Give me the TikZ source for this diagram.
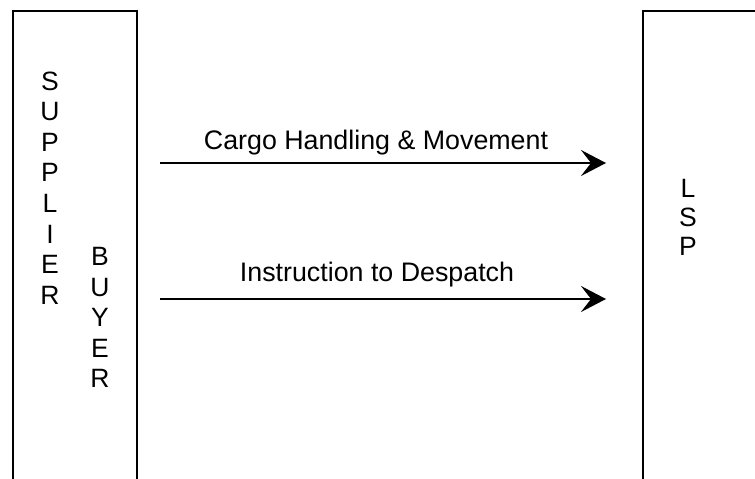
\documentclass[tikz,border=0pt]{standalone}
\usepackage{fontspec}
\setmainfont{Liberation Sans}
\usetikzlibrary{arrows.meta}
\begin{document}
\begin{tikzpicture}[x=1pt,y=-1pt,
  lane/.style={draw=black, line width=2pt, rectangle, inner sep=0pt, anchor=north west},
  vtext/.style={align=center, font=\fontsize{26.5}{30.6}\selectfont, inner sep=0pt},
  ltext/.style={font=\fontsize{26.8}{30}\selectfont, inner sep=0pt, anchor=base},
  flow/.style={line width=2.2pt, -{Stealth[length=25pt,width=26pt,inset=10pt]}}]
\useasboundingbox (0,0) rectangle (755,479);
\clip (0,0) rectangle (755,479);
\node[lane, minimum width=124pt, minimum height=520pt] (sup) at (12,10) {};
\node[lane, minimum width=200pt, minimum height=520pt] (lsp) at (642,10) {};
\node[vtext] (suptext) at (50,188) {S\\U\\P\\P\\L\\I\\E\\R};
\node[vtext] (buytext) at (100,317.5) {B\\U\\Y\\E\\R};
\node[vtext, font=\fontsize{26.5}{29}\selectfont] (lsptext) at (688,217) {L\\S\\P};
\coordinate (c1s) at (160,163);
\coordinate (c1e) at (606,163);
\coordinate (c2s) at (160,299);
\coordinate (c2e) at (606,299);
\draw[flow] (c1s) -- (c1e);
\draw[flow] (c2s) -- (c2e);
\node[ltext] (l1) at (376,149.5) {Cargo Handling \& Movement};
\node[ltext] (l2) at (377,281.5) {Instruction to Despatch};
\end{tikzpicture}
\end{document}
